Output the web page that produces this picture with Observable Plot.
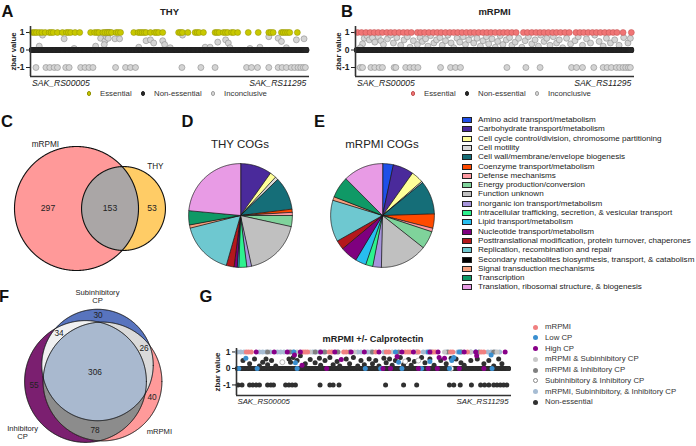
<!DOCTYPE html>
<html>
<head>
<meta charset="utf-8">
<script src="https://cdn.jsdelivr.net/npm/d3@7"></script>
<script src="https://cdn.jsdelivr.net/npm/@observablehq/plot@0.6"></script>
<style>
html,body{margin:0;padding:0;background:#fff;}
#fig{position:relative;width:696px;height:446px;overflow:hidden;font-family:"Liberation Sans",Arial,Helvetica,sans-serif;color:#222;}
#fig .t{position:absolute;white-space:nowrap;line-height:1;}
#fig svg{position:absolute;}
</style>
</head>
<body>
<div id="fig"></div>
<script>
// ---------------- DATA ----------------
const N_GENES = 2259;                       // SAK_RS00005 ... SAK_RS11295
const geneEnds = ["SAK_RS00005", "SAK_RS11295"];
const zbarTicks = [-1, 0, 1];

// Panel A: THY (gene index, zbar)
const thyEssential = [5,22,38,60,82,109,142,158,175,210,251,284,300,319,355,393,483,516,535,551,584,601,620,636,655,693,710,729,838,874,890,906,923,939,975,1010,1026,1043,1076,1207,1223,1239,1283,1343,1360,1376,1411,1507,1523,1540,1575,1593,1611,1643,1660,1693,1780,1862,1949,1966,1985,2053,2069,2086,2104,2121,2184];
const thyInconclusive = [
  [60,0.22],[87,0.85],[265,0.64],[347,0.09],[524,0.22],[565,0.67],[601,0.53],[612,0.76],[620,0.89],[628,0.67],[595,0.31],
  [683,0.64],[721,0.64],[879,0.16],[939,0.53],[975,0.58],[1002,0.4],[1076,0.53],[1092,0.31],[1138,0.13],[1239,0.85],
  [1425,0.16],[1466,0.16],[1529,0.45],[1594,0.58],[1616,0.4],[1630,0.13],[1794,0.09],[1876,0.16],[1949,0.76],[2026,0.67],
  [2053,0.49],[2094,0.13],[2176,0.58],[2239,0.64],[612,1],[628,1],[640,1],
  [33,-1],[115,-1],[147,-1],[183,-1],[210,-1],[278,-1],[306,-1],[401,-1],[437,-1],[470,-1],[502,-1],[688,-1],[770,-1],
  [811,-1],[852,-1],[1234,-1],[1390,-1],[1507,-1],[1766,-1],[1807,-1],[1856,-1],[1949,-1],[2026,-1],[2059,-1],[2094,-1],
  [2135,-1],[2162,-1],[2190,-1],[2212,-1],[2233,-1],[2250,-1]
];

// Panel B: mRPMI
const rpmiEssential = [5,38,74,109,142,175,210,246,278,311,347,382,415,448,497,524,557,592,628,661,693,729,764,797,830,865,901,934,966,1002,1037,1070,1103,1138,1174,1207,1239,1275,1310,1370,1403,1439,1474,1507,1540,1575,1611,1643,1676,1712,1747,1802,1835,1867,1903,1938,1971,2004,2039,2075,2108,2140,2190,2258];
const rpmiInconclusive = [
  [60,0.67],[82,0.82],[101,0.58],[128,0.71],[147,0.45],[175,0.76],[197,0.53],[218,0.31],[46,0.35],[27,0.13],[251,0.64],
  [278,0.85],[300,0.4],[328,0.71],[360,0.27],[388,0.58],[415,0.76],[437,0.16],[464,0.53],[497,0.31],[519,0.71],[538,0.49],
  [565,0.64],[584,0.22],[606,0.82],[633,0.4],[655,0.58],[683,0.71],[702,0.27],[729,0.53],[748,0.85],[775,0.4],[797,0.13],
  [824,0.67],[846,0.45],[874,0.76],[893,0.31],[920,0.58],[939,0.89],[961,0.4],[988,0.67],[1016,0.22],[1037,0.53],[1065,0.76],
  [1084,0.35],[1111,0.64],[1138,0.16],[1158,0.49],[1179,0.82],[1201,0.31],[1229,0.58],[1256,0.71],[1275,0.27],[1302,0.45],
  [1330,0.67],[1357,0.16],[1384,0.53],[1411,0.76],[1439,0.35],[1466,0.58],[1493,0.22],[1512,0.85],[1540,0.49],[1562,0.67],
  [1589,0.27],[1616,0.76],[1643,0.4],[1665,0.58],[1693,0.13],[1725,0.67],[1758,0.35],[1794,0.53],[1821,0.76],[1856,0.27],
  [1889,0.64],[1922,0.4],[1957,0.85],[1993,0.49],[2026,0.22],[2053,0.67],[2086,0.4],[2121,0.58],[2157,0.27],[2195,0.71],
  [2230,0.4],[2250,0.67],
  [27,-1],[46,-1],[115,-1],[147,-1],[183,-1],[210,-1],[306,-1],[320,-1],[401,-1],[437,-1],[470,-1],[502,-1],[688,-1],[770,-1],
  [811,-1],[852,-1],[1234,-1],[1390,-1],[1507,-1],[1766,-1],[1807,-1],[1856,-1],[1949,-1],[2026,-1],[2059,-1],[2094,-1],
  [2135,-1],[2162,-1],[2190,-1],[2212,-1],[2233,-1],[2250,-1]
];

// Panel C: Venn of essential genes
const vennCSets = ["mRPMI", "THY"];
const vennCTotals = [450, 206];
const vennCRegionMasks = [[1,0],[1,1],[0,1]];
const vennCRegionCounts = [297, 153, 53];

// Panels D, E: COG categories
const cogCategories = [
  "Amino acid transport/metabolism","Carbohydrate transport/metabolism","Cell cycle control/division, chromosome partitioning",
  "Cell motility","Cell wall/membrane/envelope biogenesis","Coenzyme transport/metabolism","Defense mechanisms",
  "Energy production/conversion","Function unknown","Inorganic ion transport/metabolism",
  "Intracellular trafficking, secretion, & vesicular transport","Lipid transport/metabolism","Nucleotide transport/metabolism",
  "Posttranslational modification, protein turnover, chaperones","Replication, recombination and repair",
  "Secondary metabolites biosynthesis, transport, & catabolism","Signal transduction mechanisms","Transcription",
  "Translation, ribosomal structure, & biogenesis"
];
const cogColors = ["#1f4fe8","#4a2a9b","#ffff99","#dadada","#156e78","#ff4a00","#ff9aa2","#7fd39b","#c0c0c0","#a694db",
  "#2ef28f","#27beef","#7f007f","#b4181c","#6ec8d0","#000000","#f7a07e","#0f9966","#e89be5"];
const thyCOG  = [0,20,4,2,21,2,2,7,37,3,5,1,2,5,34,0,2,9,48];
const rpmiCOG = [15,29,17,2,47,20,5,25,66,12,10,15,24,13,58,0,5,30,56];

// Panel F: Venn, mRPMI +/- calprotectin
const vennFSets = ["Subinhibitory\nCP", "Inhibitory\nCP", "mRPMI"];
const vennFRegionMasks = [[1,0,0],[0,1,0],[0,0,1],[1,1,0],[1,0,1],[0,1,1],[1,1,1]];
const vennFRegionCounts = [30, 55, 40, 34, 26, 78, 306];

// Panel G: mRPMI +/- Calprotectin (gene index, zbar)
const gCategories = ["mRPMI","Low CP","High CP","mRPMI & Subinhibitory CP","mRPMI & Inhibitory CP",
  "Subinhibitory & Inhibitory CP","mRPMI, Subinhibitory, & Inhibitory CP","Non-essential"];
const gMRPMI = [[74,1],[93,1],[115,1],[546,1],[565,1],[584,1],[764,1],[786,1],[885,1],[906,1],[1152,1],[1239,1],[1261,1],
  [1398,1],[1420,1],[1439,1],[1507,1],[1630,1],[1649,1],[1775,1],[1794,1],[1916,1],[2031,1],[2053,1]];
const gLowCP = [[470,1],[1316,1],[1589,1],[1848,1],[1985,1],[70,0.62],[483,0.35],[1343,0.38],[1603,0.42],[1785,0.48],
  [1802,0.67],[2113,0.81],[11,0],[164,0],[497,0],[1065,0],[1193,0],[1370,0],[1534,0],[1766,0],[2121,0]];
const gHighCP = [[156,1],[306,1],[415,1],[524,1],[693,1],[811,1],[947,1],[1057,1],[1179,1],[1370,1],[1466,1],[1603,1],
  [1671,1],[1889,1],[1985,1],[2230,1],[865,0.54],[538,0.19],[1330,0.73],[1680,0.67],[1725,0.62],[1993,0.77],[475,0.81],
  [743,0],[1212,0],[1275,0],[1507,0],[1589,0],[1665,0],[1848,0],[2053,0]];
const gMRPMISub = [[497,1],[606,1],[975,1],[1289,1],[1480,1],[1725,1],[1944,1],[2162,1]];
const gMRPMIInh = [[251,1],[442,1],[647,1],[729,1],[838,1],[934,1],[1125,1],[1343,1],[1493,1],[1616,1],[1753,1],[1862,1],[2012,1],[2135,1]];
const gSubInh = [[374,0.38],[1398,0.42],[1507,0.48],[1780,0]];
const gAll = [[0,1],[27,1],[55,1],[183,1],[210,1],[238,1],[273,1],[333,1],[360,1],[388,1],[429,1],[464,1],[628,1],[655,1],
  [683,1],[715,1],[824,1],[1002,1],[1029,1],[1084,1],[1111,1],[1220,1],[1548,1],[1575,1],[1739,1],[1835,1],[1867,1],
  [1944,1],[2086,1],[2113,1],[2148,1],[2184,1]];
const gNonEssentialOff = [[46,0.48],[101,0.29],[142,0.58],[183,0.15],[210,0.38],[238,0.58],[251,0.23],[284,0.48],[319,0.15],
  [429,0.58],[442,0.38],[464,0.67],[497,0.48],[524,0.77],[565,0.29],[606,0.54],[647,0.35],[683,0.62],[693,0.19],[729,0.48],
  [770,0.67],[797,0.23],[830,0.42],[852,0.15],[906,0.58],[934,0.29],[966,0.67],[1002,0.15],[1029,0.48],[1057,0.23],
  [1097,0.58],[1125,0.29],[1152,0.48],[1179,0.15],[1220,0.62],[1239,0.35],[1267,0.58],[1289,0.19],[1316,0.48],[1357,0.67],
  [1384,0.23],[1425,0.54],[1447,0.19],[1474,0.42],[1534,0.67],[1562,0.35],[1603,0.58],[1638,0.19],[1693,0.48],[1739,0.29],
  [1780,0.62],[1821,0.58],[1862,0.35],[1889,0.19],[1944,0.48],[1998,0.58],[2053,0.29],[2094,0.48],[2135,0.15],[2176,0.58],
  [2203,0.29],
  [5,-1],[38,-1],[101,-1],[128,-1],[156,-1],[183,-1],[251,-1],[278,-1],[300,-1],[401,-1],[429,-1],[456,-1],[483,-1],
  [688,-1],[770,-1],[797,-1],[846,-1],[1234,-1],[1384,-1],[1493,-1],[1766,-1],[1802,-1],[1856,-1],[1949,-1],[2026,-1],
  [2059,-1],[2094,-1],[2135,-1],[2162,-1],[2190,-1],[2217,-1],[2244,-1]];

// ---------------- HELPERS ----------------
const FONT = '"Liberation Sans", Arial, Helvetica, sans-serif';
const fig = document.getElementById("fig");
function txt(s, x, y, o = {}) {
  const d = document.createElement("div");
  d.className = "t"; d.textContent = s;
  const tx = o.anchor === "start" ? "0" : o.anchor === "end" ? "-100%" : "-50%";
  Object.assign(d.style, {left: x + "px", top: y + "px", fontSize: (o.size || 9) + "px",
    fontWeight: o.weight || "normal", fontStyle: o.italic ? "italic" : "normal", color: o.color || "#222",
    transform: `translate(${tx},-50%)`});
  fig.appendChild(d);
}
function box(x, y, w, h, css) {
  const d = document.createElement("div");
  Object.assign(d.style, {position: "absolute", left: x + "px", top: y + "px", width: w + "px", height: h + "px", boxSizing: "border-box"}, css);
  fig.appendChild(d);
}
function put(svg, left, top) { svg.style.left = left + "px"; svg.style.top = top + "px"; fig.appendChild(svg); }
function complement(lists) {
  const used = new Set(); lists.forEach(L => L.forEach(d => used.add(Array.isArray(d) ? d[0] : d)));
  return d3.range(N_GENES).filter(i => !used.has(i)).map(i => [i, 0]);
}
const baseStyle = {background: "transparent", overflow: "visible", fontFamily: FONT, color: "#222"};

function scatter(o) {
  const svg = Plot.plot({
    width: o.width, height: o.height,
    marginLeft: o.mL, marginRight: o.mR, marginTop: o.mT, marginBottom: o.mB,
    x: {domain: o.xDomain, axis: null},
    y: {domain: o.yDomain, ticks: zbarTicks, tickSize: 4, tickPadding: 2, tickFormat: d => String(d), label: null},
    style: {...baseStyle, fontSize: "8.5px", fontWeight: "bold"},
    marks: [
      ...o.layers.map(L => Plot.dot(L.data, {x: d => d[0], y: d => d[1], r: o.r, fill: L.fill,
        stroke: L.stroke || "none", strokeWidth: L.sw || 0})),
      Plot.ruleX([o.xDomain[0]], {stroke: "#333", strokeWidth: 1.6}),
      Plot.ruleY([o.yDomain[0]], {stroke: "#333", strokeWidth: 1.6}),
      Plot.text([0], {x: d => d, text: () => geneEnds[0], frameAnchor: "bottom", dy: o.labelDy, textAnchor: "start",
        fontStyle: "italic", fontWeight: "normal", fontSize: o.endSize}),
      Plot.text([N_GENES - 1], {x: d => d, text: () => geneEnds[1], frameAnchor: "bottom", dy: o.labelDy, textAnchor: "end",
        fontStyle: "italic", fontWeight: "normal", fontSize: o.endSize}),
      Plot.text(["zbar value"], {text: d => d, frameAnchor: "left", textAnchor: "middle", rotate: -90, dx: o.yLabelDx,
        fontWeight: "bold", fontSize: o.yLabelSize})
    ]
  });
  put(svg, o.left, o.top);
}

// ---------------- PANELS A, B ----------------
const xDomAB = [-12, N_GENES + 25];
const yDomAB = [-1.514, 1.343];
const inconcStyle = {fill: "#d4d4d4", stroke: "#8c8c8c", sw: 0.6};
scatter({left: 0, top: 0, width: 330, height: 100, mL: 30, mR: 21, mT: 26, mB: 24, xDomain: xDomAB, yDomain: yDomAB,
  r: 3, labelDy: 9, yLabelDx: -17, yLabelSize: 7.8, endSize: 8.6,
  layers: [
    {data: thyInconclusive, ...inconcStyle},
    {data: complement([thyEssential, thyInconclusive]), fill: "#262626"},
    {data: thyEssential.map(i => [i, 1]), fill: "#c8c800", stroke: "#8f8f00", sw: 0.5}
  ]});
scatter({left: 325, top: 0, width: 330, height: 100, mL: 30, mR: 21, mT: 26, mB: 24, xDomain: xDomAB, yDomain: yDomAB,
  r: 3, labelDy: 9, yLabelDx: -17, yLabelSize: 7.8, endSize: 8.6,
  layers: [
    {data: rpmiInconclusive, ...inconcStyle},
    {data: complement([rpmiEssential, rpmiInconclusive]), fill: "#262626"},
    {data: rpmiEssential.map(i => [i, 1]), fill: "#f07575", stroke: "#c05050", sw: 0.5}
  ]});
txt("THY", 169.5, 12, {size: 9.5, weight: "bold"});
txt("mRPMI", 494.5, 12, {size: 9.5, weight: "bold"});
function abLegend(dx, essColor, essBorder) {
  const items = [["Essential", essColor, essBorder, 89], ["Non-essential", "#262626", "#262626", 143], ["Inconclusive", "#d8d8d8", "#a0a0a0", 213]];
  items.forEach(([lab, c, b, x]) => {
    box(x + dx - 2.2, 91.3, 4.4, 4.4, {borderRadius: "50%", background: c, border: "0.6px solid " + b});
    txt(lab, x + dx + 11, 93.5, {anchor: "start", size: 7.8, color: "#333"});
  });
}
abLegend(0, "#c8c800", "#8f8f00");
abLegend(324, "#f07575", "#c05050");

// ---------------- VENN helpers ----------------
function circlePts(c, n = 720) {
  return d3.range(n).map(j => { const t = 2 * Math.PI * j / n; return [c.x + c.r * Math.cos(t), c.y + c.r * Math.sin(t)]; });
}
function isIn(p, c) { return Math.hypot(p[0] - c.x, p[1] - c.y) <= c.r + 1e-6; }
function cci(a, b) {
  const dx = b.x - a.x, dy = b.y - a.y, d = Math.hypot(dx, dy);
  if (d > a.r + b.r || d < Math.abs(a.r - b.r)) return [];
  const l = (a.r * a.r - b.r * b.r + d * d) / (2 * d), h = Math.sqrt(Math.max(0, a.r * a.r - l * l));
  const mx = a.x + l * dx / d, my = a.y + l * dy / d;
  return [[mx + h * dy / d, my - h * dx / d], [mx - h * dy / d, my + h * dx / d]];
}
function interPoly(cs) {
  const pts = [];
  cs.forEach((c, k) => circlePts(c).forEach(p => { if (cs.every((o, m) => m === k || isIn(p, o))) pts.push(p); }));
  for (let i = 0; i < cs.length; i++) for (let j = i + 1; j < cs.length; j++)
    cci(cs[i], cs[j]).forEach(p => { if (cs.every(o => isIn(p, o))) pts.push(p); });
  return d3.polygonHull(pts);
}
function pole(cs, mask, xd, yd) {
  let best = null, bd = -1;
  for (let x = xd[0]; x <= xd[1]; x += 0.5) for (let y = yd[0]; y <= yd[1]; y += 0.5) {
    let ok = true, dm = Infinity;
    cs.forEach((c, k) => { const d = Math.hypot(x - c.x, y - c.y); if ((d < c.r) !== !!mask[k]) ok = false; dm = Math.min(dm, Math.abs(d - c.r)); });
    if (ok && dm > bd) { bd = dm; best = [x, y]; }
  }
  return best;
}
const poly = (pts, fill, stroke, sw) => Plot.line(pts, {x: d => d[0], y: d => d[1], fill, stroke: stroke || "none", strokeWidth: sw || 0, curve: "linear-closed"});
function around(c, ang, pad) { const t = ang * Math.PI / 180; return [c.x + (c.r + pad) * Math.sin(t), c.y + (c.r + pad) * Math.cos(t)]; }

// ---------------- PANEL C ----------------
{
  const rC = Plot.scale({r: {type: "sqrt", domain: [0, 450], range: [0, 62]}});
  const offsetsC = [[0, 0], [47, 0]];
  const cs = vennCTotals.map((n, k) => ({x: offsetsC[k][0], y: offsetsC[k][1], r: rC.apply(n)}));
  const xd = [-76, 104], yd = [-72, 73];
  const labels = vennCRegionCounts.map((n, k) => ({n, p: pole(cs, vennCRegionMasks[k], xd, yd)}));
  const setLab = [{s: vennCSets[0], p: around(cs[0], -26, 9)}, {s: vennCSets[1], p: around(cs[1], 37, 11)}];
  const svg = Plot.plot({
    width: 180, height: 145, margin: 0,
    x: {domain: xd, axis: null}, y: {domain: yd, axis: null},
    style: {...baseStyle, fontSize: "8.5px"},
    marks: [
      poly(circlePts(cs[0]), "#ff9999"),
      poly(circlePts(cs[1]), "#ffcc66"),
      poly(interPoly(cs), "#aaa6a6"),
      poly(circlePts(cs[0]), "none", "#111", 1.1),
      poly(circlePts(cs[1]), "none", "#111", 1.1),
      Plot.text(labels, {x: d => d.p[0], y: d => d.p[1], text: d => String(d.n), fontSize: 8.6, fill: "#222"}),
      Plot.text(setLab, {x: d => d.p[0], y: d => d.p[1], text: d => d.s, fontSize: 8.2, fill: "#222"})
    ]
  });
  put(svg, 0, 135);
}

// ---------------- PANELS D, E ----------------
function pie(counts, left, top) {
  const arcs = d3.pie().sort(null)(counts);
  const slices = arcs.filter(a => a.value > 0).map(a => {
    const n = Math.max(2, Math.ceil((a.endAngle - a.startAngle) / 0.015));
    const pts = [[0, 0]];
    for (let j = 0; j <= n; j++) { const t = a.startAngle + (a.endAngle - a.startAngle) * j / n; pts.push([Math.sin(t), Math.cos(t)]); }
    return {pts, color: cogColors[a.index]};
  });
  const svg = Plot.plot({
    width: 110, height: 110, margin: 0,
    x: {domain: [-1.06, 1.06], axis: null}, y: {domain: [-1.06, 1.06], axis: null},
    style: baseStyle,
    marks: slices.map(s => poly(s.pts, s.color, "#111", 0.7))
  });
  put(svg, left, top);
}
pie(thyCOG, 185, 160);
pie(rpmiCOG, 327, 160);
txt("THY COGs", 240, 145, {size: 11.5});
txt("mRPMI COGs", 382, 145, {size: 11.5});
cogCategories.forEach((c, i) => {
  const y = 120 + i * 9.3;
  box(462, y - 3, 10, 6, {background: cogColors[i], border: "1px solid #222"});
  txt(c, 478, y, {anchor: "start", size: 8.1, color: "#222"});
});

// ---------------- PANEL F ----------------
{
  const rF = Plot.scale({r: {type: "sqrt", domain: [0, 473], range: [0, 60.9]}});
  const totals = [0, 1, 2].map(k => d3.sum(vennFRegionCounts.filter((n, j) => vennFRegionMasks[j][k])));
  const offsetsF = [[0, 16.5], [-12, 0], [5, 0]];
  const cs = totals.map((n, k) => ({x: offsetsF[k][0], y: offsetsF[k][1], r: rF.apply(n)}));
  const [A, B, C] = cs;
  const xd = [-97, 83], yd = [-65, 81];
  const labels = vennFRegionCounts.map((n, k) => ({n, p: pole(cs, vennFRegionMasks[k], xd, yd)}));
  const setLab = [{s: vennFSets[0], p: around(A, 0, 13)}, {s: vennFSets[1], p: around(B, -129, 20)}, {s: vennFSets[2], p: around(C, 131, 16)}];
  const svg = Plot.plot({
    width: 180, height: 146, margin: 0,
    x: {domain: xd, axis: null}, y: {domain: yd, axis: null},
    style: baseStyle,
    marks: [
      poly(circlePts(B), "#7b1f70"),
      poly(circlePts(C), "#ff9a9a"),
      poly(circlePts(A), "#5874be"),
      poly(interPoly([A, B]), "#f1f1f1"),
      poly(interPoly([A, C]), "#dadada"),
      poly(interPoly([B, C]), "#8c8c8c"),
      poly(interPoly([A, B, C]), "#a9b9cf"),
      ...cs.map(c => poly(circlePts(c), "none", "#111", 1)),
      Plot.text(labels, {x: d => d.p[0], y: d => d.p[1], text: d => String(d.n), fontSize: 8.3, fill: "#222"}),
      Plot.text(setLab, {x: d => d.p[0], y: d => d.p[1], text: d => d.s, fontSize: 7.6, lineHeight: 1.05, fill: "#222"})
    ]
  });
  put(svg, 0, 300);
}

// ---------------- PANEL G ----------------
const gColors = ["#f08080", "#3a8fd0", "#880088", "#c8c8c8", "#808080", "#ffffff", "#a6bcd3", "#303030"];
const gSeries = [gMRPMI, gLowCP, gHighCP, gMRPMISub, gMRPMIInh, gSubInh, gAll];
scatter({left: 200, top: 330, width: 320, height: 80, mL: 36, mR: 9, mT: 18, mB: 15, xDomain: [-8, N_GENES + 24],
  yDomain: [-1.64, 1.21], r: 2.5, labelDy: 8, yLabelDx: -19, yLabelSize: 8, endSize: 7.8,
  layers: [
    {data: complement([...gSeries, gNonEssentialOff]), fill: gColors[7]},
    {data: gNonEssentialOff, fill: gColors[7]},
    {data: gAll, fill: gColors[6]},
    {data: gMRPMIInh, fill: gColors[4]},
    {data: gMRPMISub, fill: gColors[3]},
    {data: gSubInh, fill: gColors[5], stroke: "#888", sw: 0.6},
    {data: gMRPMI, fill: gColors[0]},
    {data: gLowCP, fill: gColors[1]},
    {data: gHighCP, fill: gColors[2]}
  ]});
txt("mRPMI +/- Calprotectin", 373, 340, {size: 9.2, weight: "bold"});
gCategories.forEach((c, i) => {
  const y = 327 + i * 10.75;
  box(532.5, y - 2.5, 5, 5, {borderRadius: "50%", background: gColors[i], border: i === 5 ? "0.6px solid #888" : "none"});
  txt(c, 545, y, {anchor: "start", size: 7.8, color: "#333"});
});

// ---------------- PANEL LETTERS ----------------
[["A", 7.5, 11], ["B", 347, 11], ["C", 7, 121], ["D", 187.5, 121], ["E", 319.5, 121], ["F", 4, 296], ["G", 206, 296]]
  .forEach(([l, x, y]) => txt(l, x, y, {size: 16.5, weight: "bold", color: "#111"}));
</script>
</body>
</html>
